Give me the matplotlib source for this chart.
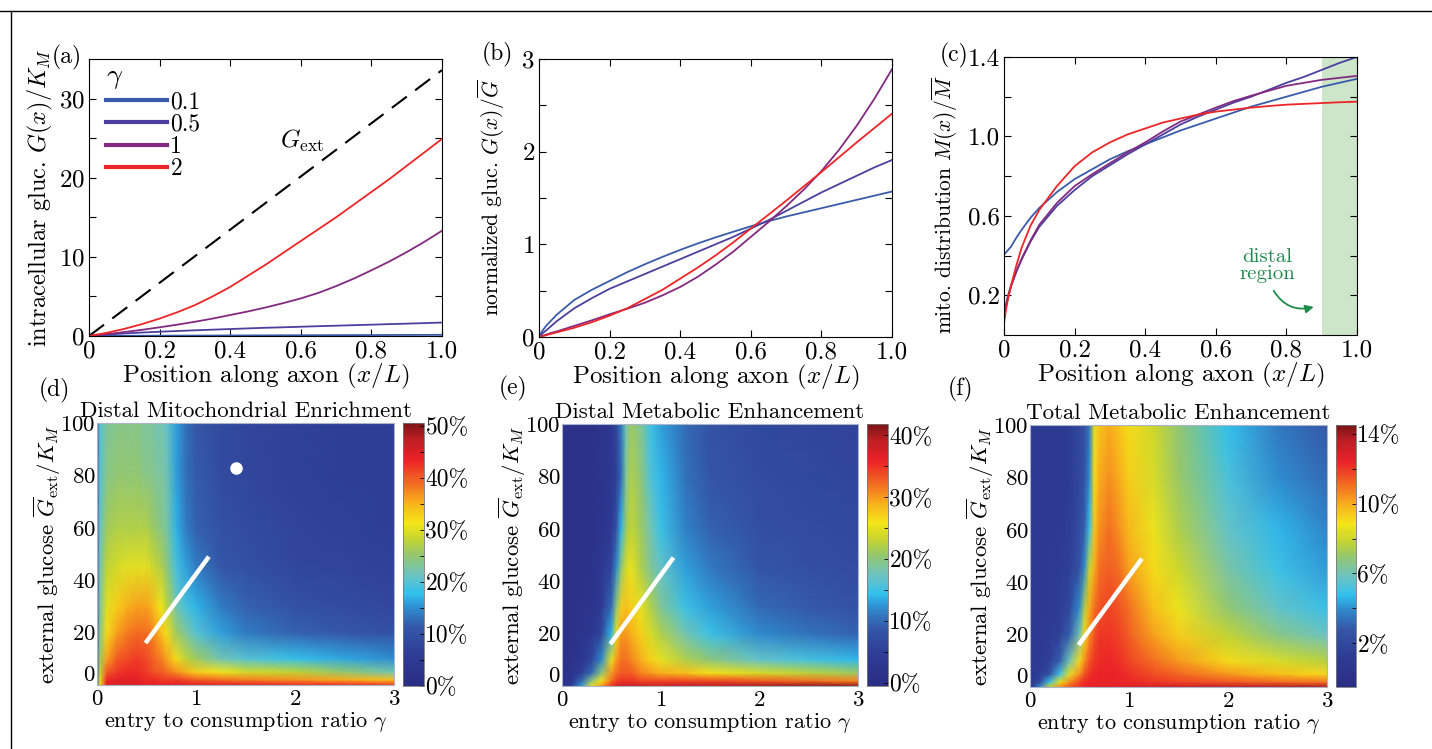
import numpy as np
import matplotlib
matplotlib.use("Agg")
import matplotlib.pyplot as plt
from matplotlib.colors import LinearSegmentedColormap
from matplotlib.lines import Line2D

plt.rcParams['font.family'] = 'serif'
plt.rcParams['font.serif'] = ['cmr10', 'DejaVu Serif']
plt.rcParams['mathtext.fontset'] = 'cm'
plt.rcParams['axes.formatter.use_mathtext'] = True
plt.rcParams['font.size'] = 16
plt.rcParams['xtick.direction'] = 'in'
plt.rcParams['ytick.direction'] = 'in'

# --- data ---
gammas = ['0.1', '0.5', '1', '2']
line_cols = ['#3a5bab', '#4b3f9f', '#832a80', '#ee2526']

# (a) intracellular glucose G(x)/K_M
x_a = [0, 0.05, 0.1, 0.15, 0.2, 0.25, 0.3, 0.35, 0.4, 0.45, 0.5,
       0.55, 0.6, 0.65, 0.7, 0.75, 0.8, 0.85, 0.9, 0.95, 1.0]
gext_x = [0, 1.0]
gext_y = [0, 33.6]
a_g01 = [0, 0.015, 0.025, 0.035, 0.04, 0.05, 0.055, 0.06, 0.07, 0.075, 0.08,
         0.09, 0.095, 0.1, 0.11, 0.115, 0.12, 0.13, 0.135, 0.14, 0.15]
a_g05 = [0, 0.18, 0.32, 0.44, 0.54, 0.63, 0.72, 0.80, 0.88, 0.96, 1.04,
         1.10, 1.17, 1.24, 1.30, 1.37, 1.43, 1.50, 1.56, 1.63, 1.70]
a_g1 = [0, 0.24, 0.50, 0.78, 1.10, 1.43, 1.80, 2.20, 2.65, 3.10, 3.60,
        4.15, 4.75, 5.45, 6.30, 7.25, 8.30, 9.40, 10.6, 11.9, 13.3]
a_g2 = [0, 0.40, 0.90, 1.50, 2.20, 3.00, 3.90, 5.00, 6.20, 7.60, 9.00,
        10.5, 12.0, 13.5, 15.0, 16.6, 18.2, 19.8, 21.5, 23.2, 24.9]

# (b) normalized glucose
x_b = [0, 0.01, 0.02, 0.035, 0.05, 0.075, 0.1, 0.15, 0.2, 0.25, 0.3, 0.35, 0.4,
       0.45, 0.5, 0.55, 0.6, 0.65, 0.7, 0.75, 0.8, 0.85, 0.9, 0.95, 1.0]
b_g01 = [0, 0.07, 0.12, 0.18, 0.24, 0.32, 0.40, 0.51, 0.605, 0.70, 0.785, 0.865, 0.94,
         1.01, 1.075, 1.135, 1.195, 1.25, 1.30, 1.345, 1.39, 1.435, 1.48, 1.525, 1.57]
b_g05 = [0, 0.04, 0.07, 0.12, 0.17, 0.24, 0.31, 0.42, 0.52, 0.60, 0.68, 0.76, 0.84,
         0.92, 1.00, 1.08, 1.17, 1.26, 1.36, 1.46, 1.56, 1.65, 1.74, 1.83, 1.91]
b_g1 = [0, 0.012, 0.025, 0.045, 0.06, 0.09, 0.12, 0.18, 0.245, 0.305, 0.37, 0.45, 0.54,
        0.65, 0.78, 0.92, 1.08, 1.24, 1.41, 1.59, 1.79, 2.02, 2.28, 2.57, 2.89]
b_g2 = [0, 0.01, 0.02, 0.035, 0.05, 0.075, 0.10, 0.16, 0.23, 0.31, 0.41, 0.51, 0.63,
        0.75, 0.88, 1.02, 1.17, 1.32, 1.47, 1.625, 1.78, 1.94, 2.10, 2.255, 2.41]

# (c) mitochondrial distribution
x_c = [0, 0.005, 0.01, 0.02, 0.035, 0.05, 0.075, 0.1, 0.15, 0.2, 0.25, 0.3, 0.35, 0.4,
       0.45, 0.5, 0.55, 0.6, 0.65, 0.7, 0.75, 0.8, 0.85, 0.9, 0.95, 1.0]
c_g01 = [0.405, 0.415, 0.425, 0.445, 0.49, 0.53, 0.59, 0.64, 0.72, 0.785, 0.835, 0.885,
         0.925, 0.96, 0.995, 1.03, 1.06, 1.09, 1.12, 1.15, 1.175, 1.20, 1.225, 1.25, 1.27, 1.29]
c_g05 = [0.09, 0.15, 0.19, 0.25, 0.32, 0.38, 0.47, 0.545, 0.65, 0.73, 0.80, 0.855,
         0.91, 0.96, 1.01, 1.06, 1.10, 1.135, 1.17, 1.20, 1.235, 1.27, 1.30, 1.335, 1.37, 1.40]
c_g1 = [0.08, 0.14, 0.18, 0.245, 0.32, 0.385, 0.475, 0.555, 0.665, 0.75, 0.81, 0.865,
        0.92, 0.97, 1.025, 1.075, 1.11, 1.145, 1.178, 1.205, 1.23, 1.255, 1.27, 1.285, 1.295, 1.305]
c_g2 = [0.06, 0.12, 0.17, 0.25, 0.35, 0.44, 0.55, 0.63, 0.75, 0.85, 0.92, 0.97,
        1.01, 1.04, 1.07, 1.09, 1.11, 1.125, 1.135, 1.145, 1.153, 1.16, 1.164, 1.168, 1.172, 1.175]
distal_start = 0.9

# heat maps (percent), rows = G_ext, cols = gamma
hm_gamma = [0, 0.03, 0.1, 0.2, 0.3, 0.4, 0.5, 0.55, 0.6, 0.65, 0.7, 0.8, 0.9, 1.0, 1.25, 1.5, 2.0, 2.5, 3.0]
hm_G = [0, 2, 5, 10, 20, 30, 45, 60, 80, 100]

d_enrich = [
    [10, 32, 44, 45, 45, 45, 44, 44, 44, 44, 44, 44, 44, 44, 44, 44, 43, 43, 42],
    [10, 30, 43, 44, 44, 44, 43, 43, 43, 42, 42, 42, 41, 40, 39, 38, 37, 35.5, 34],
    [10, 28, 40, 42, 43, 43, 42, 41, 40, 40, 39, 37, 35, 33, 31, 29, 28, 25, 22],
    [10, 26, 36, 40, 41, 42, 41, 40, 39, 38, 36, 32, 28, 26, 22, 20, 18, 16.5, 15],
    [10, 24, 32, 36, 38, 39, 39, 38, 36, 34, 32, 26, 23, 20, 16, 14, 12, 11, 10],
    [10, 23, 30, 33, 35, 36, 36, 35, 33, 31, 28, 22, 19, 17, 14, 12, 10, 9, 8],
    [10, 22, 28, 29, 30, 30, 30, 29, 28, 27, 25, 19, 16, 14, 11, 10, 8, 7.5, 7],
    [10, 21, 26, 27, 27, 27, 27, 26, 25, 24, 23, 17, 14, 12, 10, 9, 7.5, 7, 6.5],
    [10, 20, 24, 25, 25, 25, 24, 24, 23, 23, 22, 16, 13, 11.5, 9, 8, 7, 6.5, 6],
    [10, 20, 23, 24, 24, 24, 23, 23, 22, 22, 21, 16, 13, 11, 9, 8, 7, 6.5, 6],
]
e_distal = [
    [1, 2, 5, 13, 25, 30, 35, 37, 38, 38, 38, 38, 38, 38, 39, 39, 40, 41, 41],
    [1, 1.5, 3, 10, 20, 26, 32, 34, 35, 35, 35, 34, 34, 34, 34, 34, 33, 32, 31],
    [1, 1, 2, 5, 10, 20, 30, 32, 33, 33, 33, 31, 30, 29, 28, 26, 24, 22.5, 21],
    [1, 1, 1.5, 3, 6, 12, 25, 30, 32, 32, 31, 29, 27, 25, 22, 20, 17, 15.5, 14],
    [1, 1, 1, 2, 3, 6, 14, 25, 30, 30, 29, 27, 24, 22, 18, 15, 12, 10.5, 9.5],
    [1, 1, 1, 1.5, 2, 4, 10, 20, 27, 28, 27, 25, 22, 19, 15, 13, 10, 9, 8],
    [1, 1, 1, 1, 1.5, 3, 6, 12, 20, 24, 25, 22, 19, 17, 13, 11, 8.5, 7.5, 7],
    [1, 1, 1, 1, 1, 2, 4, 8, 14, 21, 23, 21, 18, 15, 11.5, 9.5, 7.5, 7, 6.5],
    [1, 1, 1, 1, 1, 2, 3, 5, 10, 19, 22, 20, 16, 14, 10.5, 8.5, 7, 6.5, 6],
    [1, 1, 1, 1, 1, 2, 3, 6, 11, 18, 21, 19, 15, 13, 10, 8, 6.5, 6, 5.5],
]
f_total = [
    [1, 1.5, 4, 8, 10.5, 11.5, 12, 12.3, 12.5, 12.5, 12.6, 12.6, 12.7, 12.8, 13, 13.2, 13.5, 13.7, 13.8],
    [1, 1.1, 2, 5, 8.5, 10.5, 11.8, 12.2, 12.4, 12.5, 12.5, 12.5, 12.4, 12.3, 12, 11.8, 11.4, 11.1, 10.9],
    [1, 1, 1.2, 2.5, 5, 8.5, 10.5, 11.5, 12, 12.3, 12.4, 12.4, 12.3, 12.1, 11.6, 11.2, 10.3, 9.6, 9.1],
    [1, 1, 1, 1.5, 3, 6, 9, 10.5, 11.5, 12, 12.2, 12.3, 12.1, 11.8, 11, 10.3, 9, 8.2, 7.6],
    [1, 1, 1, 1.2, 1.6, 3, 6, 9, 10.5, 11.5, 12, 12, 11.8, 11.3, 10.2, 9.3, 7.8, 6.6, 5.8],
    [1, 1, 1, 1, 1.3, 2, 4, 7.5, 10, 11, 11.5, 11.8, 11.5, 11, 9.6, 8.6, 6.9, 5.7, 4.9],
    [1, 1, 1, 1, 1.2, 1.5, 2.5, 4, 8, 10, 11, 11.3, 11, 10.2, 9, 8, 6.2, 5.0, 4.2],
    [1, 1, 1, 1, 1, 1.3, 2.2, 3, 5, 9.5, 10.5, 11, 10.5, 9.8, 8.6, 7.5, 5.7, 4.6, 3.8],
    [1, 1, 1, 1, 1, 1.2, 2, 2.5, 4, 9, 10, 10.5, 10, 9.3, 8.2, 7.1, 5.2, 4.0, 3.2],
    [1, 1, 1, 1, 1, 1.2, 2, 2.5, 3.5, 8.5, 9.5, 10, 9.5, 9, 8, 6.9, 4.8, 3.6, 2.8],
]

seg_gamma = [0.49, 1.13]
seg_G = [16, 49]
dot_gamma = [1.40]
dot_G = [83]

# jet-like colormap as printed
cmap = LinearSegmentedColormap.from_list('pjet', [
    (0.0, '#2b2d84'), (0.12, '#2e3d95'), (0.22, '#3557a7'), (0.30, '#2f8ed0'),
    (0.35, '#31c0ee'), (0.42, '#6cc3c3'), (0.50, '#95c76c'), (0.56, '#c6d52f'),
    (0.62, '#f4e61a'), (0.70, '#f8ae1c'), (0.78, '#f26522'), (0.86, '#ec2227'),
    (0.94, '#bd1e24'), (1.0, '#7b1416')])

W, H = 1432, 749
fig = plt.figure(figsize=(W / 100, H / 100), dpi=100)


def box(l, t, r, b):
    return [l / W, (H - b) / H, (r - l) / W, (b - t) / H]


# outer frame (top + left edges only)
fig.add_artist(Line2D([0, 1], [1 - 11 / H, 1 - 11 / H], transform=fig.transFigure, color='k', lw=1))
fig.add_artist(Line2D([11 / W, 11 / W], [0, 1 - 11 / H], transform=fig.transFigure, color='k', lw=1))


def style_line_ax(ax):
    ax.tick_params(top=True, right=True, length=5, width=0.8, labelsize=18, pad=3)
    ax.tick_params(which='minor', top=True, right=True, length=5, width=0.8)
    ax.set_xlim(0, 1)
    ax.set_xticks([0, 0.2, 0.4, 0.6, 0.8, 1.0])
    ax.set_xticklabels(['0', '0.2', '0.4', '0.6', '0.8', '1.0'])
    ax.set_xlabel(r'Position along axon $(x/L)$', fontsize=18, labelpad=0)


# ---- (a)
ax = fig.add_axes(box(89, 59, 442, 336))
ax.plot(gext_x, gext_y, color='k', lw=1.5, dashes=(9, 5))
for ys, c in zip([a_g01, a_g05, a_g1, a_g2], line_cols):
    ax.plot(x_a, ys, color=c, lw=1.3)
ax.set_ylim(0, 35)
ax.set_yticks([0, 10, 20, 30])
ax.set_yticks([5, 15, 25], minor=True)
style_line_ax(ax)
ax.set_ylabel(r'intracellular gluc. $G(x)/K_M$', fontsize=17.5, labelpad=3)
ax.text(0.54, 24.6, r'$G_{\rm ext}$', fontsize=18, va='center')
handles = [Line2D([], [], color=c, lw=3) for c in line_cols]
ax.legend(handles, gammas, title=r'$\gamma$', loc='upper left', bbox_to_anchor=(0.0, 1.045),
          frameon=False, handlelength=2.6, handletextpad=0.15, labelspacing=0.0,
          borderaxespad=0.3, fontsize=17, title_fontsize=20, alignment='left')
fig.text(67 / W, 1 - 57 / H, '(a)', ha='center', va='center', fontsize=17)

# ---- (b)
ax = fig.add_axes(box(539, 59, 892, 337))
for ys, c in zip([b_g01, b_g05, b_g1, b_g2], line_cols):
    ax.plot(x_b, ys, color=c, lw=1.3)
ax.set_ylim(0, 3)
ax.set_yticks([0, 1, 2, 3])
ax.set_yticks([0.5, 1.5, 2.5], minor=True)
style_line_ax(ax)
ax.set_ylabel(r'normalized gluc. $G(x)/\overline{G}$', fontsize=15.5, labelpad=10)
fig.text(497 / W, 1 - 54 / H, '(b)', ha='center', va='center', fontsize=17)

# ---- (c)
ax = fig.add_axes(box(1004, 57, 1357, 335))
ax.axvspan(distal_start, 1.0, color='#cde5c9', lw=0)
for ys, c in zip([c_g01, c_g05, c_g1, c_g2], line_cols):
    ax.plot(x_c, ys, color=c, lw=1.3)
ax.set_ylim(0, 1.4)
ax.set_yticks([0.2, 0.6, 1.0, 1.4])
ax.set_yticklabels(['0.2', '0.6', '1.0', '1.4'])
ax.set_yticks([0.4, 0.8, 1.2], minor=True)
style_line_ax(ax)
ax.set_ylabel(r'mito. distribution $M(x)/\overline{M}$', fontsize=15.5, labelpad=2)
ax.yaxis.set_label_coords(-0.125, 0.47)
ax.text(0.745, 0.35, 'distal\nregion', color='#1f8a4c', fontsize=15, ha='center',
        va='center', linespacing=0.95)
ax.annotate('', xy=(0.885, 0.145), xytext=(0.76, 0.235),
            arrowprops=dict(arrowstyle='-|>', color='#1f8a4c', lw=1.3,
                            connectionstyle='arc3,rad=0.4', mutation_scale=12))
fig.text(954 / W, 1 - 55 / H, '(c)', ha='center', va='center', fontsize=17)

# ---- heat maps
hm_specs = [
    ('(d)', (54, 390), 'Distal Mitochondrial Enrichment', d_enrich,
     box(97, 423, 394, 685), box(403, 423, 424, 686), 0, 50.5,
     [0, 10, 20, 30, 40, 50], [5, 15, 25, 35, 45], True),
    ('(e)', (513, 388), 'Distal Metabolic Enhancement', e_distal,
     box(562, 424, 858, 686), box(867, 424, 888, 686), -0.5, 41.8,
     [0, 10, 20, 30, 40], [5, 15, 25, 35], False),
    ('(f)', (961, 389), 'Total Metabolic Enhancement', f_total,
     box(1030, 425, 1327, 687), box(1336, 425, 1356, 687), -0.5, 14.5,
     [2, 6, 10, 14], [4, 8, 12], False),
]

for lab, lpos, title, Z, rect, crect, vmin, vmax, cticks, cminor, show_dot in hm_specs:
    ax = fig.add_axes(rect)
    mesh = ax.pcolormesh(hm_gamma, hm_G, np.array(Z), cmap=cmap, vmin=vmin, vmax=vmax,
                         shading='gouraud', rasterized=True)
    ax.plot(seg_gamma, seg_G, color='white', lw=3.2, solid_capstyle='butt')
    if show_dot:
        ax.plot(dot_gamma, dot_G, 'o', color='white', ms=8, mec='white')
    ax.set_xlim(0, 3)
    ax.set_ylim(0, 100)
    ax.set_xticks([0, 1, 2, 3])
    ax.set_yticks([0, 20, 40, 60, 80, 100])
    ax.tick_params(length=0, labelsize=16.5, pad=1)
    ax.tick_params(axis='x', pad=3)
    # lift the corner "0" a little so it sits above the x-axis "0"
    ax.get_yticklabels()[0].set_verticalalignment('bottom')
    for s in ax.spines.values():
        s.set_color('#a9b3cc')
        s.set_linewidth(0.8)
    ax.set_title(title, fontsize=16.5, pad=4)
    ax.set_xlabel(r'entry to consumption ratio $\gamma$', fontsize=16, labelpad=1)
    ax.set_ylabel(r'external glucose $\overline{G}_{\rm ext}/K_M$', fontsize=16.5, labelpad=-2)
    cax = fig.add_axes(crect)
    cb = fig.colorbar(mesh, cax=cax)
    cb.set_ticks(cticks)
    cb.set_ticklabels(['%d%%' % t for t in cticks])
    cax.set_yticks(cminor, minor=True)
    cax.tick_params(which='both', length=3, width=0.6, direction='in', labelsize=17, pad=1)
    cb.outline.set_edgecolor('#777777')
    cb.outline.set_linewidth(0.6)
    fig.text(lpos[0] / W, 1 - lpos[1] / H, lab, ha='center', va='center', fontsize=17)

fig.savefig('out.png', dpi=100)
